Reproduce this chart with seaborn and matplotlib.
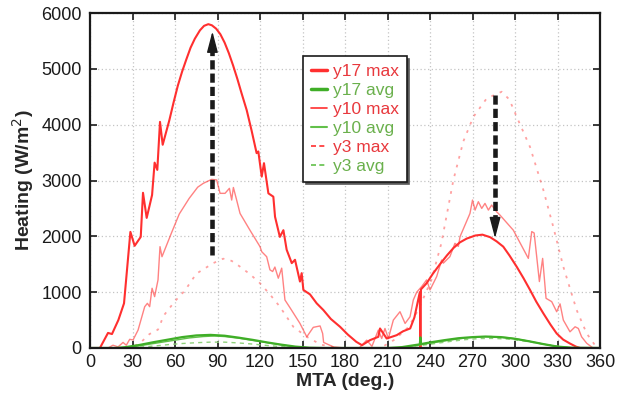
import matplotlib
matplotlib.use("Agg")
import matplotlib.pyplot as plt
import seaborn as sns
from matplotlib.lines import Line2D

# MTA (deg.) / heating (W/m^2)
y17max_deg = [0, 7, 12.7, 15.5, 20, 24, 28.5, 31.5, 35.8, 37.4, 40, 43.8, 45.6, 47.5, 49.4, 51.3,
              53, 56, 59, 62, 65, 68, 71, 74, 77.6, 80.5, 83.5, 86, 89, 92, 95, 98, 101, 104, 107,
              110.6, 114, 117.6, 118.8, 121.2,
              122.8, 125.9, 129.4, 130.6, 134, 136.5, 138.8, 142.4, 144.7, 148.2, 149.4, 150.6,
              155.3, 160, 164.7, 170, 176.5, 182, 188, 192, 197.6, 203.5, 204.7, 209.4, 216.5,
              221, 226, 229, 232.8, 233.2, 233.6, 237.6, 242, 247, 252, 256.5, 261, 265.9, 272, 277,
              282.4, 287, 291.7, 296, 301.2, 306, 310.6, 315, 320, 325, 329.4, 334, 338.8, 343, 346, 360]
y17max_val = [0, 0, 270, 250, 500, 800, 2080, 1830, 1990, 2780, 2330, 2740, 3320, 3190, 4050, 3640,
              3800, 4080, 4400, 4700, 4950, 5170, 5380, 5540, 5690, 5770, 5800, 5780, 5720, 5620, 5470,
              5280, 5060, 4820, 4560, 4260, 3900, 3490, 3520, 3070,
              3310, 2770, 2710, 2350, 1990, 2110, 1760, 1520, 1580, 1190, 1340, 1040,
              960, 800, 680, 520, 380, 240, 110, 50, 140, 200, 350, 170, 230,
              300, 350, 550, 1000, 0, 1050, 1160, 1330, 1500, 1660, 1790, 1890, 1960, 2015, 2030,
              1985, 1910, 1815, 1660, 1455, 1250, 1040, 830, 620, 420, 260, 150, 80, 25, 0, 0]

y10max_deg = [0, 12.7, 16.2, 19.8, 23.3, 25.6, 28, 30.4, 33.9, 38.6, 40.5, 42.1, 43.8, 45.6, 48, 49.4,
              50.8, 57.4, 63, 70, 76, 80, 85.9, 89.4, 91.8, 95.3, 98.4, 100, 101.2, 103.5, 105.9,
              112.9, 120, 121.2, 124.7, 127, 128.9, 130.5, 132.9, 135.3, 137.6, 141.2, 148.2, 153,
              157.6, 162.4, 164.2, 164.9, 171.8, 180, 190, 195.3, 199, 203.5, 205.9, 208.2, 210.6,
              214.1, 218.8, 222.4, 225.9, 228.2, 230.6, 234.1, 237.6, 240, 244.7, 248.2, 249.4, 254,
              257.6, 260, 261.2, 268.2, 270, 271.8, 274.1, 276.5, 278.8, 281.2, 283.5, 287, 289.4,
              298.8, 309.4, 311.8, 313.5, 317.2, 319.5, 321.9, 325.9, 329.4, 331.8, 334.1, 338.8,
              342.4, 344.7, 347, 350.6, 355, 360]
y10max_val = [0, 0, 50, 20, 100, 50, 155, 145, 320, 740, 800, 740, 1070, 920, 1220, 1815,
              1635, 2055, 2400, 2680, 2880, 2950, 3020, 3010, 2770, 2770, 2860, 2650, 2875, 2650, 2410,
              2110, 1815, 1725, 1635, 1400, 1370, 1450, 1250, 1430, 860, 720, 440, 200,
              370, 395, 260, 100, 20, 0, 0, 140, 30, 320, 170, 350, 170,
              500, 650, 440, 560, 860, 1000, 1100, 1220, 1040, 1280, 1575, 1520, 1635,
              1875, 1820, 1995, 2410, 2650, 2470, 2620, 2500, 2590, 2470, 2560, 2440, 2380,
              2110, 1605, 2085, 2060, 1190, 1605, 890, 830, 650, 790, 500, 290,
              380, 350, 200, 85, 0, 0]

y3max_deg = [0, 28, 35, 42, 48, 52, 60, 67, 75, 87, 94, 100, 106, 113, 120, 127, 134, 143.5, 153, 163,
             175, 205, 215, 225, 232, 241, 248, 256.5, 263.5, 270.6, 280, 290.6, 296, 301.2, 310.6,
             320, 327, 334.1, 343.5, 350.6, 357, 360]
y3max_val = [0, 0, 80, 250, 330, 580, 840, 1030, 1330, 1520, 1600, 1560, 1455, 1320, 1160, 960, 740, 380, 200, 60,
             0, 0, 150, 380, 700, 1220, 1875, 3010, 3700, 4140, 4470, 4590, 4450, 4140, 3600,
             2830, 2170, 1455, 680, 260, 30, 0]

y17avg_deg = [0, 18, 25, 35, 45, 55, 65, 75, 85, 95, 105, 115, 125, 135, 145, 155, 165, 210, 220, 230,
              232.8, 233.2, 233.6, 240, 250, 260, 270, 279, 290, 300, 310, 320, 330, 340, 360]
y17avg_val = [0, 0, 15, 55, 105, 150, 195, 225, 235, 220, 185, 145, 100, 60, 25, 5, 0, 0, 15, 55,
              65, 190, 70, 100, 140, 175, 195, 205, 195, 165, 120, 70, 25, 5, 0]

y10avg_deg = [0, 20, 30, 40, 50, 60, 70, 80, 88, 95, 105, 115, 125, 135, 145, 155, 165, 215, 225, 235,
              245, 255, 265, 275, 283, 295, 305, 315, 325, 335, 345, 360]
y10avg_val = [0, 0, 20, 60, 100, 140, 180, 205, 215, 205, 175, 135, 95, 55, 20, 3, 0, 0, 25, 65,
              105, 145, 180, 200, 205, 185, 145, 95, 45, 12, 0, 0]

y3avg_deg = [0, 25, 35, 45, 55, 65, 75, 85, 95, 105, 115, 125, 135, 145, 155, 215, 225, 235, 245, 255,
             265, 275, 285, 295, 305, 315, 325, 335, 345, 360]
y3avg_val = [0, 0, 15, 35, 60, 80, 95, 105, 105, 90, 70, 45, 25, 10, 0, 0, 20, 50, 85, 120,
             150, 170, 172, 160, 130, 90, 50, 15, 0, 0]

# dashed black arrows: x position, tail value, tip value
arrow_x = [86.4, 285.9]
arrow_tail = [1665, 4530]
arrow_tip = [5670, 1965]

x_ticks = list(range(0, 361, 30))
y_ticks = list(range(0, 6001, 1000))

RED = "#ff2f2f"
GREEN = "#3fae27"
RED_TXT = "#e8383d"
GREEN_TXT = "#6ab04c"

sns.set_theme(style="ticks")
plt.rcParams["font.family"] = ["Liberation Sans", "DejaVu Sans"]

fig = plt.figure(figsize=(6.26, 4), dpi=100)
ax = fig.add_axes([0.1438, 0.13, 0.8147, 0.8375])

# red curves
sns.lineplot(x=y3max_deg, y=y3max_val, ax=ax, color=RED, lw=1.3, alpha=0.45,
             linestyle=(0, (1.5, 3.5)), estimator=None, sort=False)
sns.lineplot(x=y10max_deg, y=y10max_val, ax=ax, color=RED, lw=1.0, alpha=0.6,
             estimator=None, sort=False)
sns.lineplot(x=y17max_deg, y=y17max_val, ax=ax, color=RED, lw=1.5,
             estimator=None, sort=False)
# green curves
sns.lineplot(x=y3avg_deg, y=y3avg_val, ax=ax, color="#8fd07c", lw=1.0,
             linestyle=(0, (3, 3)), estimator=None, sort=False)
sns.lineplot(x=y10avg_deg, y=y10avg_val, ax=ax, color="#62c04a", lw=1.0,
             estimator=None, sort=False)
sns.lineplot(x=y17avg_deg, y=y17avg_val, ax=ax, color=GREEN, lw=1.6,
             estimator=None, sort=False)

# arrows
head_len = 330
for x, t0, t1 in zip(arrow_x, arrow_tail, arrow_tip):
    sgn = 1 if t1 > t0 else -1
    base = t1 - sgn * head_len
    ax.plot([x, x], [t0, base], color="k", lw=3.3, dashes=(2.0, 0.9), solid_capstyle="butt",
            dash_capstyle="butt", zorder=5)
    ax.annotate("", xy=(x, t1), xytext=(x, base),
                arrowprops=dict(arrowstyle="-|>,head_length=0.65,head_width=0.17",
                                mutation_scale=20, fc="k", ec="k", lw=1,
                                shrinkA=0, shrinkB=0), zorder=6)

ax.set_xlim(0, 360)
ax.set_ylim(0, 6000)
ax.set_xticks(x_ticks)
ax.set_yticks(y_ticks)
ax.grid(True, color="#c4c4c4", linestyle=(0, (1, 2)), lw=0.9)
ax.set_axisbelow(True)
ax.tick_params(direction="in", top=True, right=True, length=5, width=1.2,
               labelsize=13, colors="k", pad=4)
ax.tick_params(axis="y", pad=6)
for s in ax.spines.values():
    s.set_linewidth(1.6)
    s.set_color("k")

ax.set_xlabel("MTA (deg.)", fontsize=14, fontweight="bold", labelpad=2)
ax.set_ylabel("Heating (W/m$^2$)", fontsize=14, fontweight="bold", labelpad=4)

handles = [
    Line2D([], [], color=RED, lw=2.5),
    Line2D([], [], color=GREEN, lw=2.5),
    Line2D([], [], color=RED, lw=1.2),
    Line2D([], [], color="#62c04a", lw=1.5),
    Line2D([], [], color=RED, lw=1.2, linestyle=(0, (3, 2))),
    Line2D([], [], color="#62c04a", lw=1.2, linestyle=(0, (3, 2))),
]
labels = ["y17 max", "y17 avg", "y10 max", "y10 avg", "y3 max", "y3 avg"]
leg = ax.legend(handles, labels, loc="upper left", bbox_to_anchor=(0.418, 0.872),
                borderaxespad=0, fontsize=12.5, handlelength=0.9, handletextpad=0.35,
                labelspacing=0.22, borderpad=0.45, frameon=True, fancybox=False,
                shadow={"color": "0.35", "alpha": 1})
leg.get_frame().set_edgecolor("k")
leg.get_frame().set_linewidth(1.2)
for txt, c in zip(leg.get_texts(), [RED_TXT, GREEN_TXT] * 3):
    txt.set_color(c)

fig.savefig("out.png", dpi=100)
